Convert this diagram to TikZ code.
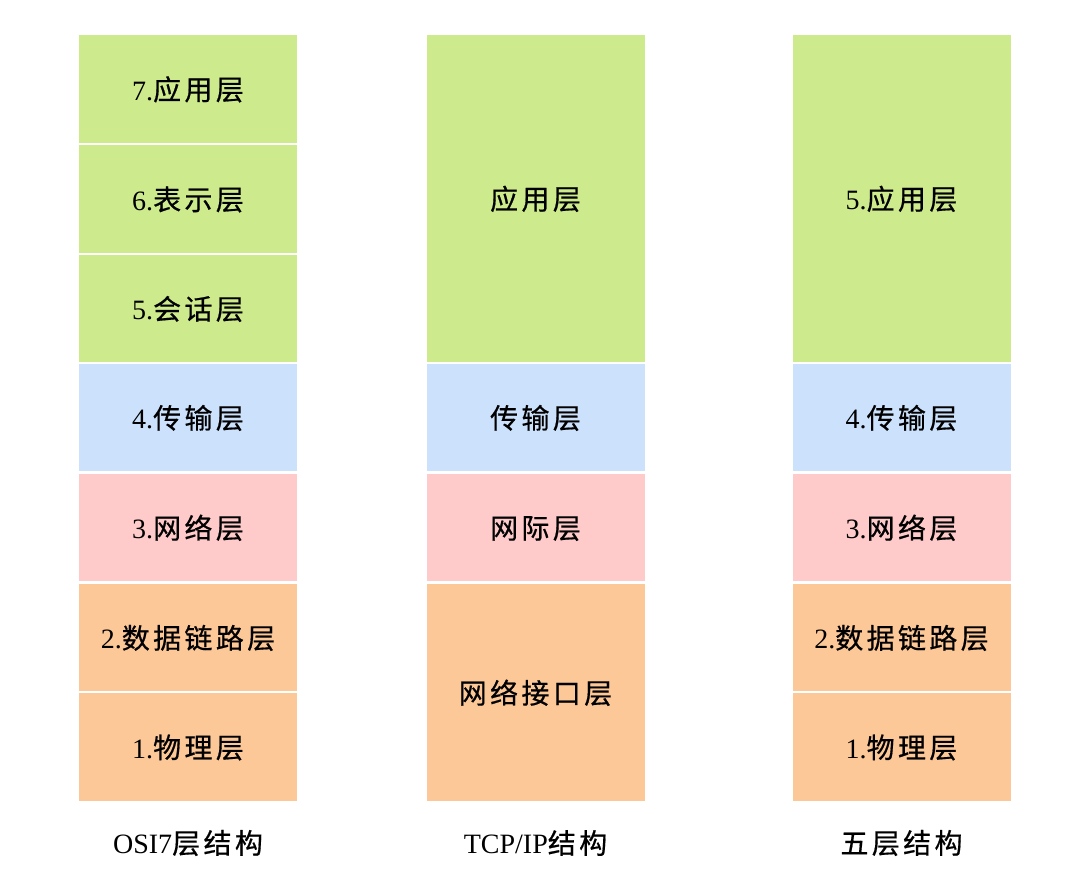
\documentclass[tikz,border=0pt]{standalone}
\usepackage{fontspec}
\setmainfont{Liberation Serif}
\newfontfamily\cjk[LetterSpace=12,FakeBold=0.6]{Noto Sans CJK SC}
\usepackage{tikz}

\definecolor{appgreen}{HTML}{CDEA8D}
\definecolor{transblue}{HTML}{CCE1FC}
\definecolor{netpink}{HTML}{FECACA}
\definecolor{linkorange}{HTML}{FDC898}

\begin{document}
\begin{tikzpicture}[x=1pt,y=-1pt]
	\useasboundingbox (0,0) rectangle (1080,895);
	\begin{scope}[every node/.style={rectangle,inner sep=0pt,minimum width=218pt,
	              text height=22pt,text depth=0pt,
	              font=\fontsize{28}{32}\selectfont}]
	    % OSI seven layers
	    \node[fill=appgreen,minimum height=108pt] (o7) at (188,89) {7.{\cjk 应用层}};
	    \node[fill=appgreen,minimum height=108pt] (o6) at (188,199) {6.{\cjk 表示层}};
	    \node[fill=appgreen,minimum height=107pt] (o5) at (188,308.5) {5.{\cjk 会话层}};
	    \node[fill=transblue,minimum height=107pt] (o4) at (188,417.5) {4.{\cjk 传输层}};
	    \node[fill=netpink,minimum height=107pt] (o3) at (188,527.5) {3.{\cjk 网络层}};
	    \node[fill=linkorange,minimum height=107pt] (o2) at (188,637.5) {2.{\cjk 数据链路层}};
	    \node[fill=linkorange,minimum height=108pt] (o1) at (188,747) {1.{\cjk 物理层}};
	    % TCP/IP
	    \node[fill=appgreen,minimum height=327pt] (t4) at (535.5,198.5) {\cjk 应用层};
	    \node[fill=transblue,minimum height=107pt] (t3) at (535.5,417.5) {\cjk 传输层};
	    \node[fill=netpink,minimum height=107pt] (t2) at (535.5,527.5) {\cjk 网际层};
	    \node[fill=linkorange,minimum height=217pt] (t1) at (535.5,692.5) {\cjk 网络接口层};
	    % five layers
	    \node[fill=appgreen,minimum height=327pt] (f5) at (901.5,198.5) {5.{\cjk 应用层}};
	    \node[fill=transblue,minimum height=107pt] (f4) at (901.5,417.5) {4.{\cjk 传输层}};
	    \node[fill=netpink,minimum height=107pt] (f3) at (901.5,527.5) {3.{\cjk 网络层}};
	    \node[fill=linkorange,minimum height=107pt] (f2) at (901.5,637.5) {2.{\cjk 数据链路层}};
	    \node[fill=linkorange,minimum height=108pt] (f1) at (901.5,747) {1.{\cjk 物理层}};
	\end{scope}

	\begin{scope}[every node/.style={font=\fontsize{28}{32}\selectfont}]
	    \node (osi) at (188,843) {OSI7{\cjk 层结构}};
	    \node (tcp) at (535.5,843) {TCP/IP{\cjk 结构}};
	    \node (five) at (901.5,843) {\cjk 五层结构};
	\end{scope}
\end{tikzpicture}
\end{document}
